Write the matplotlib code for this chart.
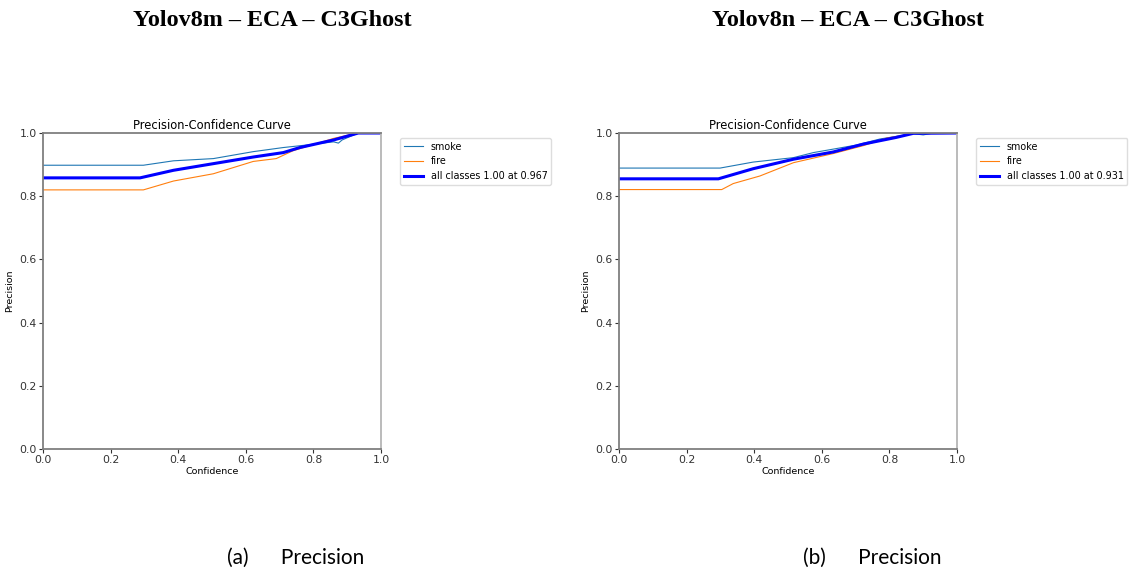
import matplotlib
matplotlib.use("Agg")
import matplotlib.pyplot as plt

# Yolov8m - ECA - C3Ghost
m_smoke_x = [0.0, 0.297, 0.386, 0.504, 0.622, 0.711, 0.78, 0.86, 0.874, 0.885, 0.933, 1.0]
m_smoke_y = [0.898, 0.898, 0.912, 0.919, 0.941, 0.954, 0.962, 0.972, 0.968, 0.978, 1.0, 1.0]
m_fire_x = [0.0, 0.297, 0.386, 0.504, 0.622, 0.69, 0.74, 0.86, 0.91, 0.933, 1.0]
m_fire_y = [0.82, 0.82, 0.848, 0.871, 0.91, 0.919, 0.944, 0.983, 0.995, 1.0, 1.0]
m_all_x = [0.0, 0.287, 0.386, 0.504, 0.622, 0.711, 0.76, 0.86, 0.933, 1.0]
m_all_y = [0.858, 0.858, 0.882, 0.903, 0.924, 0.938, 0.954, 0.978, 1.0, 1.0]

# Yolov8n - ECA - C3Ghost
n_smoke_x = [0.0, 0.299, 0.397, 0.516, 0.575, 0.634, 0.703, 0.772, 0.871, 0.9, 0.93, 1.0]
n_smoke_y = [0.889, 0.889, 0.908, 0.922, 0.938, 0.949, 0.962, 0.981, 0.998, 0.994, 1.0, 1.0]
n_fire_x = [0.0, 0.304, 0.338, 0.417, 0.516, 0.634, 0.723, 0.792, 0.851, 0.871, 1.0]
n_fire_y = [0.821, 0.821, 0.84, 0.864, 0.906, 0.935, 0.96, 0.984, 0.994, 1.0, 1.0]
n_all_x = [0.0, 0.294, 0.397, 0.516, 0.634, 0.723, 0.82, 0.871, 1.0]
n_all_y = [0.855, 0.855, 0.887, 0.917, 0.94, 0.965, 0.986, 0.999, 1.0]

panels = [
    ("Yolov8m \u2013 ECA \u2013 C3Ghost", "(a)      Precision", "all classes 1.00 at 0.967",
     (m_smoke_x, m_smoke_y), (m_fire_x, m_fire_y), (m_all_x, m_all_y)),
    ("Yolov8n \u2013 ECA \u2013 C3Ghost", "(b)      Precision", "all classes 1.00 at 0.931",
     (n_smoke_x, n_smoke_y), (n_fire_x, n_fire_y), (n_all_x, n_all_y)),
]

fig = plt.figure(figsize=(11.33, 5.71), dpi=100)
lefts = [43 / 1133, 619 / 1133]
heads_x = [272 / 1133, 848 / 1133]
caps_x = [296 / 1133, 872 / 1133]

for i, (head, cap, all_lbl, smoke, fire, allc) in enumerate(panels):
    ax = fig.add_axes([lefts[i], 122 / 571, 338 / 1133, 316 / 571])
    ax.plot(*smoke, color="#1f77b4", lw=0.8, label="smoke")
    ax.plot(*fire, color="#ff7f0e", lw=0.8, label="fire")
    ax.plot(*allc, color="blue", lw=2.2, label=all_lbl)
    ax.set_xlim(0, 1)
    ax.set_ylim(0, 1)
    ax.set_xticks([0, 0.2, 0.4, 0.6, 0.8, 1.0])
    ax.set_yticks([0, 0.2, 0.4, 0.6, 0.8, 1.0])
    ax.tick_params(labelsize=7.8, length=3, width=0.8, pad=1.5, colors="#333333")
    for s in ax.spines.values():
        s.set_color("#7f7f7f")
        s.set_linewidth(1.3)
    ax.spines["right"].set_color("#b5b5b5")
    ax.set_title("Precision-Confidence Curve", fontsize=8.3, pad=3)
    ax.set_xlabel("Confidence", fontsize=6.8, labelpad=1)
    ax.set_ylabel("Precision", fontsize=6.8, labelpad=4)
    ax.legend(loc="upper left", bbox_to_anchor=(1.056, 0.985), borderaxespad=0,
              fontsize=6.9, framealpha=1, edgecolor="#dddddd")

    fig.text(heads_x[i], 1 - 21 / 571, head, ha="center", va="center",
             fontsize=17.4, fontweight="bold", family="Liberation Serif")
    fig.text(caps_x[i], 1 - 558 / 571, cap, ha="center", va="center",
             fontsize=15, family="Lato")

fig.savefig("out.png", dpi=100)
